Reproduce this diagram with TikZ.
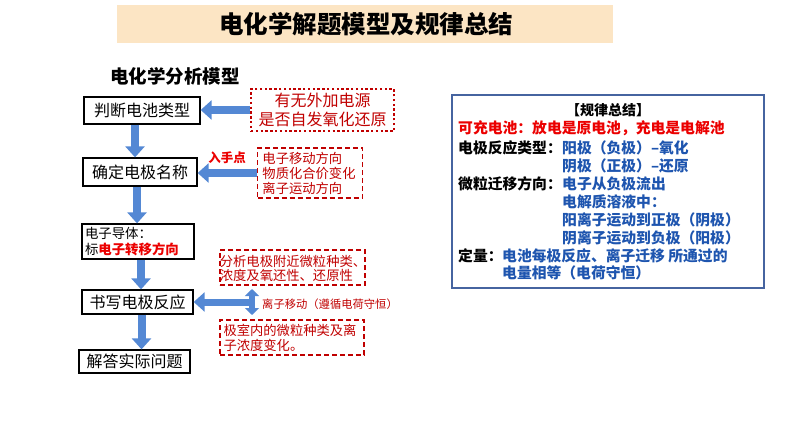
\documentclass[tikz,border=0pt]{standalone}
\usepackage{fontspec}
\setmainfont{Noto Sans CJK SC}
\usetikzlibrary{arrows.meta}
\definecolor{titlebg}{RGB}{252,229,196}
\definecolor{dred}{RGB}{192,0,0}
\definecolor{bred}{RGB}{235,0,0}
\definecolor{ablue}{RGB}{84,136,212}
\definecolor{tblue}{RGB}{30,85,175}
\definecolor{frameblue}{RGB}{70,100,160}
\newcommand\setfs[2]{\fontsize{#1pt}{#2pt}\selectfont}
\begin{document}
\begin{tikzpicture}[x=1pt,y=-1pt,
  flowbox/.style={draw=black,line width=1.3pt,inner sep=0pt,font=\setfs{16}{18}},
  dashbox/.style={draw=dred,dashed,dash pattern=on 5pt off 3pt,line width=1.5pt,inner sep=0pt},
  dotbox/.style={draw=dred,dash pattern=on 2.4pt off 2.4pt,line width=2.6pt,inner sep=0pt},
  redtext/.style={text=dred,align=left,inner sep=0pt},
  hbarrow/.style={draw=ablue,line width=8pt,-{Triangle[length=11pt,width=19pt]}},
  vbarrow/.style={draw=ablue,line width=8pt,-{Triangle[length=11pt,width=19pt]}},
  dblarrow/.style={draw=ablue,line width=6pt,{Triangle[length=7pt,width=14pt]}-{Triangle[length=7pt,width=14pt]}},
  lbl/.style={anchor=west,inner sep=0pt,font=\setfs{14.8}{16}\bfseries},
  val/.style={anchor=west,inner sep=0pt,text=tblue,font=\setfs{14.8}{16}\bfseries}
]
\useasboundingbox (0,0) rectangle (794,447);
% title
\node[fill=titlebg,minimum width=496pt,minimum height=38pt,inner sep=0pt] (title) at (365,24) {};
\node[inner sep=0pt,font=\setfs{24.5}{26}\bfseries] (titletext) at (366,24) {电化学解题模型及规律总结};
% subtitle
\node[inner sep=0pt,font=\setfs{18.5}{20}\bfseries,anchor=west] (sub) at (110,76) {电化学分析模型};
% flow boxes
\node[flowbox,minimum width=116pt,minimum height=27pt] (b1) at (142,110.5) {判断电池类型};
\node[flowbox,minimum width=114pt,minimum height=28pt] (b2) at (140,172) {确定电极名称};
\node[flowbox,minimum width=112pt,minimum height=35pt,align=left,text width=106pt,font=\setfs{13.4}{16}] (b3) at (138,241.5) {电子导体：\\标{\bfseries\color{bred}电子转移方向}};
\node[flowbox,minimum width=111pt,minimum height=24pt] (b4) at (137.5,302) {书写电极反应};
\node[flowbox,minimum width=111pt,minimum height=23pt] (b5) at (134.5,361.5) {解答实际问题};
% side boxes
\node[dotbox,minimum width=143pt,minimum height=42pt] (s1) at (322.5,110) {};
\node[redtext,align=center,font=\setfs{16}{19}] (s1t) at (s1.center) {有无外加电源\\是否自发氧化还原};
\node[dashbox,minimum width=105pt,minimum height=50pt] (s2) at (310,173) {};
\node[redtext,font=\setfs{13.3}{15}] (s2t) at (309,173) {电子移动方向\\物质化合价变化\\离子运动方向};
\node[dashbox,minimum width=145pt,minimum height=35pt] (s3) at (292.5,267.5) {};
\node[redtext,font=\setfs{13.3}{14.5}] (s3t) at (293,268.5) {分析电极附近微粒种类、\\浓度及氧还性、还原性};
\node[dashbox,minimum width=144pt,minimum height=35pt] (s4) at (292,337.5) {};
\node[redtext,font=\setfs{13.3}{15}] (s4t) at (290,337.5) {极室内的微粒种类及离\\子浓度变化。};
\node[inner sep=0pt,text=bred,font=\setfs{12.5}{13}\bfseries] (entry) at (227,158) {入手点};
\node[inner sep=0pt,anchor=west,text=dred,font=\setfs{11.3}{12}] (ionmove) at (262,304) {离子移动（遵循电荷守恒）};
% arrows
\draw[hbarrow] (s1.west) -- (b1.east |- s1.west);
\draw[hbarrow] (s2.west) -- (b2.east |- s2.west);
\draw[vbarrow] ([xshift=-7pt]b1.south) -- ([xshift=-7pt]b1.south |- b2.north);
\draw[vbarrow] ([xshift=-3pt]b2.south) -- ([xshift=-3pt]b2.south |- b3.north);
\draw[vbarrow] ([xshift=3pt]b3.south) -- ([xshift=3pt]b3.south |- b4.north);
\draw[vbarrow] ([xshift=4pt]b4.south) -- ([xshift=4pt]b4.south |- b5.north);
\coordinate (dtop) at (252,289);
\coordinate (dbot) at (252,315);
\coordinate (dmid) at (252,302);
\draw[dblarrow] (dtop) -- (dbot);
\draw[hbarrow,line width=7pt] (dmid) -- (b4.east |- dmid);
% summary frame
\node[draw=frameblue,line width=2pt,minimum width=312pt,minimum height=193pt,inner sep=0pt] (frame) at (608,191) {};
\node[inner sep=0pt,font=\setfs{14}{16}\bfseries] (hdr) at (608,110) {【规律总结】};
\node[lbl,text=bred] (l1) at (458,128) {可充电池：放电是原电池，充电是电解池};
\node[lbl] (l2) at (458,148) {电极反应类型：};
\node[val] (v2) at (562,148) {阳极（负极）–氧化};
\node[val] (v3) at (562,166) {阴极（正极）–还原};
\node[lbl] (l4) at (458,184) {微粒迁移方向：};
\node[val] (v4) at (562,184) {电子从负极流出};
\node[val] (v5) at (562,202) {电解质溶液中：};
\node[val] (v6) at (562,220) {阳离子运动到正极（阴极）};
\node[val] (v7) at (562,238) {阴离子运动到负极（阳极）};
\node[lbl] (l8) at (458,256) {定量：};
\node[val] (v8) at (502,256) {电池每极反应、离子迁移 所通过的};
\node[val] (v9) at (502,273) {电量相等（电荷守恒）};
\end{tikzpicture}
\end{document}
